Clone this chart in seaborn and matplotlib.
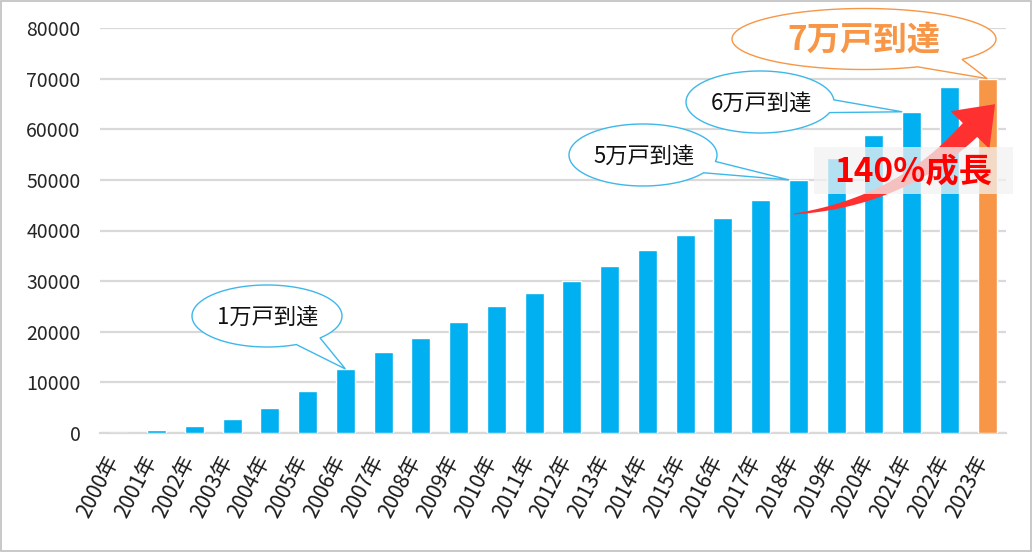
import numpy as np
import matplotlib
matplotlib.use("Agg")
import matplotlib.pyplot as plt
import matplotlib.transforms as mtransforms
import seaborn as sns
from matplotlib.patches import Polygon, Rectangle

# data
years = ["2000年", "2001年", "2002年", "2003年", "2004年", "2005年", "2006年", "2007年",
         "2008年", "2009年", "2010年", "2011年", "2012年", "2013年", "2014年", "2015年",
         "2016年", "2017年", "2018年", "2019年", "2020年", "2021年", "2022年", "2023年"]
households = [60, 500, 1350, 2700, 4900, 8300, 12650, 16000, 18800, 21950, 25100, 27700,
              30100, 33000, 36200, 39150, 42500, 46050, 50000, 54300, 58900, 63450, 68400, 70000]
bar_colors = ["#00B0F0"] * 23 + ["#F79646"]
y_ticks = [0, 10000, 20000, 30000, 40000, 50000, 60000, 70000, 80000]

# milestone callouts: (bar index, label)
milestones = [(6, "1万戸到達"), (18, "5万戸到達"), (21, "6万戸到達"), (23, "7万戸到達")]
growth_label = "140%成長"

W, H = 1032, 552
sns.set_style("white")
plt.rcParams["font.family"] = ["Noto Sans CJK JP", "DejaVu Sans"]

fig = plt.figure(figsize=(W / 100, H / 100), dpi=100)
ax = fig.add_axes([100 / W, 1 - 433 / H, 906 / W, 405 / H])

sns.barplot(x=years, y=households, hue=years, palette=bar_colors, legend=False,
            width=0.5, saturation=1, ax=ax, zorder=3)

ax.set_xlim(-0.5, len(years) - 0.5)
ax.set_ylim(0, 80000)
ax.set_yticks(y_ticks)
ax.set_yticklabels([str(v) for v in y_ticks], fontsize=14, color="#262626")
ax.yaxis.grid(True, color="#D9D9D9", lw=1.6)
ax.set_axisbelow(True)
for s in ["left", "right", "top"]:
    ax.spines[s].set_visible(False)
ax.spines["bottom"].set_color("#D9D9D9")
ax.spines["bottom"].set_linewidth(1.6)
ax.spines["bottom"].set_zorder(1)
ax.tick_params(axis="both", length=0)
ax.tick_params(axis="y", pad=14)
ax.tick_params(axis="x", pad=17)
ax.set_xlabel("")
ax.set_ylabel("")

shift = mtransforms.ScaledTranslation(-5 / 100, 0, fig.dpi_scale_trans)
for lbl in ax.get_xticklabels():
    lbl.set_rotation(63)
    lbl.set_ha("right")
    lbl.set_va("center")
    lbl.set_rotation_mode("anchor")
    lbl.set_fontsize(15)
    lbl.set_color("#1A1A1A")
    lbl.set_transform(lbl.get_transform() + shift)

# overlay in pixel coordinates for annotations
ov = fig.add_axes([0, 0, 1, 1])
ov.set_xlim(0, W)
ov.set_ylim(H, 0)
ov.axis("off")
ov.patch.set_alpha(0)


def bar_top(i, dx=0.0):
    x, y = ax.transData.transform((i + dx, households[i]))
    return x, H - y


def bubble(cx, cy, a, b, t1, t2, tip, edge, lw=1.0):
    t = np.radians(np.linspace(t2, t1 + 360, 200))
    pts = np.column_stack([cx + a * np.cos(t), cy + b * np.sin(t)])
    pts = np.vstack([pts, [tip]])
    ov.add_patch(Polygon(pts, closed=True, facecolor="white", edgecolor=edge, lw=lw, zorder=5))


def curved_arrow(p0, p1, p2, w0, w1, head_len, head_half, color):
    p0, p1, p2 = map(np.asarray, (p0, p1, p2))
    t = np.linspace(0, 1, 80)[:, None]
    pts = (1 - t) ** 2 * p0 + 2 * (1 - t) * t * p1 + t ** 2 * p2
    d = 2 * (1 - t) * (p1 - p0) + 2 * t * (p2 - p1)
    d = d / np.linalg.norm(d, axis=1, keepdims=True)
    n = np.column_stack([-d[:, 1], d[:, 0]])
    w = (w0 + (w1 - w0) * t) / 2
    left = pts + n * w
    right = pts - n * w
    dend, nend = d[-1], n[-1]
    tip = p2 + dend * head_len
    head = [p2 + nend * head_half, tip, p2 - nend * head_half]
    poly = np.vstack([left, head, right[::-1]])
    ov.add_patch(Polygon(poly, closed=True, facecolor=color, edgecolor="none", zorder=3))


# red curved arrow
curved_arrow((794, 214), (900, 202), (970, 130), 1, 20, 36, 27, "#FF3030")

# translucent box + growth label
ov.add_patch(Rectangle((814, 147), 199, 47, facecolor="#F2F2F2", alpha=0.75, lw=0, zorder=4))
ov.text(913, 172, growth_label, fontsize=24, fontweight="bold", color="#FF0000",
        ha="center", va="center", zorder=6)

# callouts
bubble_geo = {
    6: dict(c=(267, 316), ab=(75, 31), gap=(45, 67), dx=0.0),
    18: dict(c=(643, 155), ab=(74, 31), gap=(12, 35), dx=-0.25),
    21: dict(c=(760, 102), ab=(74, 31), gap=(-4, 20), dx=-0.25),
    23: dict(c=(864, 39), ab=(132, 30.5), gap=(42, 66), dx=0.0),
}
for i, label in milestones:
    g = bubble_geo[i]
    orange = i == 23
    edge = "#F79646" if orange else "#3DB8EA"
    bubble(g["c"][0], g["c"][1], g["ab"][0], g["ab"][1], g["gap"][0], g["gap"][1],
           bar_top(i, g["dx"]), edge)
    if orange:
        ov.text(g["c"][0], g["c"][1] + 1, label, fontsize=24, fontweight="bold",
                color="#F79646", ha="center", va="center", zorder=6)
    else:
        ov.text(g["c"][0] + 1, g["c"][1] + 1, label, fontsize=16, color="#111111",
                ha="center", va="center", zorder=6)

# chart frame
ov.add_patch(Rectangle((0.5, 0.5), W - 1.5, H - 1.5, fill=False, edgecolor="#BFBFBF", lw=1.2, zorder=7))

fig.savefig("out.png", dpi=100)
